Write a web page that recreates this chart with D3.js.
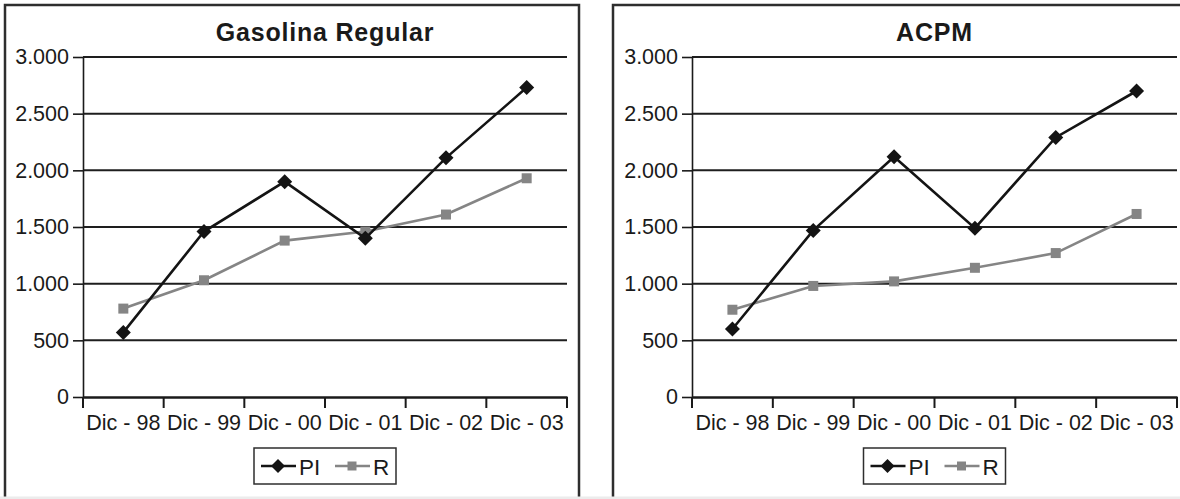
<!DOCTYPE html>
<html>
<head>
<meta charset="utf-8">
<script src="https://cdn.jsdelivr.net/npm/d3@7"></script>
<style>
  body { margin: 0; background: #fff; }
  svg { display: block; }
  svg text { font-family: "Liberation Sans", Arial, sans-serif; }
  .axis path, .axis line { stroke: #1a1a1a; }
  .axis text { fill: #1a1a1a; font-size: 21.5px; }
</style>
</head>
<body>
<svg id="chart" width="1180" height="499"></svg>
<script>
const categories = ["Dic - 98", "Dic - 99", "Dic - 00", "Dic - 01", "Dic - 02", "Dic - 03"];
const yTicks = [0, 500, 1000, 1500, 2000, 2500, 3000];
const seriesNames = ["PI", "R"];

const gasolinaPI = [570, 1460, 1900, 1400, 2110, 2730];
const gasolinaR = [780, 1030, 1380, 1460, 1610, 1930];
const acpmPI = [600, 1470, 2120, 1490, 2290, 2700];
const acpmR = [770, 980, 1020, 1140, 1270, 1615];

const locale = d3.formatLocale({ decimal: ",", thousands: ".", grouping: [3], currency: ["$", ""] });
const fmt = locale.format(",d");

const colors = { PI: "#141414", R: "#858585" };

const svg = d3.select("#chart");

function marker(g, name, cx, cy, big) {
  if (name === "PI") {
    const s = big ? 7.5 : 7;
    g.append("path")
      .attr("d", `M${cx},${cy - s}L${cx + s},${cy}L${cx},${cy + s}L${cx - s},${cy}Z`)
      .attr("fill", colors.PI);
  } else {
    const s = big ? 10 : 9;
    g.append("rect")
      .attr("x", cx - s / 2).attr("y", cy - s / 2)
      .attr("width", s).attr("height", s)
      .attr("fill", colors.R);
  }
}

function panel(opts) {
  const g = svg.append("g");

  g.append("rect")
    .attr("x", opts.frame[0]).attr("y", 5)
    .attr("width", opts.frame[1] - opts.frame[0]).attr("height", 510)
    .attr("fill", "none").attr("stroke", "#2e2e2e").attr("stroke-width", 2.5);

  const x = d3.scaleBand().domain(categories).range(opts.xRange);
  const y = d3.scaleLinear().domain([0, 3000]).range([397, 57]);

  // gridlines
  g.selectAll(".grid")
    .data(yTicks.filter(d => d > 0))
    .join("line")
    .attr("x1", opts.xRange[0]).attr("x2", opts.xRange[1])
    .attr("y1", d => y(d)).attr("y2", d => y(d))
    .attr("stroke", "#1e1e1e").attr("stroke-width", 2);

  // y axis
  const yAxis = g.append("g")
    .attr("class", "axis")
    .attr("font-family", null)
    .attr("transform", `translate(${opts.xRange[0]},0)`)
    .call(d3.axisLeft(y).tickValues(yTicks).tickFormat(fmt).tickSize(10).tickSizeOuter(0).tickPadding(4));
  yAxis.attr("font-family", null).attr("font-size", null);
  yAxis.select(".domain").attr("stroke-width", 1.6);
  yAxis.selectAll(".tick line").attr("stroke-width", 1.6);

  // x axis: labels at centres, ticks at category boundaries
  const xAxis = g.append("g")
    .attr("class", "axis")
    .attr("transform", "translate(0,397)")
    .call(d3.axisBottom(x).tickSize(0).tickSizeOuter(0).tickPadding(18));
  xAxis.attr("font-family", null).attr("font-size", null);
  xAxis.select(".domain").attr("stroke-width", 2.6);

  const bounds = categories.map(c => x(c)).concat([opts.xRange[1]]);
  g.selectAll(".xtick")
    .data(bounds)
    .join("line")
    .attr("x1", d => d).attr("x2", d => d)
    .attr("y1", 397).attr("y2", 408)
    .attr("stroke", "#1a1a1a").attr("stroke-width", 2);

  // series
  const line = d3.line()
    .x((d, i) => x(categories[i]) + x.bandwidth() / 2)
    .y(d => y(d));

  [["R", opts.R], ["PI", opts.PI]].forEach(([name, vals]) => {
    g.append("path")
      .datum(vals)
      .attr("d", line)
      .attr("fill", "none")
      .attr("stroke", colors[name])
      .attr("stroke-width", 2.6);
    vals.forEach((v, i) => marker(g, name, x(categories[i]) + x.bandwidth() / 2, y(v), true));
  });

  const cx = (opts.xRange[0] + opts.xRange[1]) / 2;

  // title
  g.append("text")
    .attr("x", cx).attr("y", 41)
    .attr("text-anchor", "middle")
    .attr("font-size", 25)
    .attr("font-weight", "bold")
    .attr("letter-spacing", 0.8)
    .attr("fill", "#1a1a1a")
    .text(opts.title);

  // legend
  const lg = g.append("g").attr("transform", `translate(${cx - 71},448)`);
  lg.append("rect")
    .attr("width", 142).attr("height", 36)
    .attr("fill", "#fff").attr("stroke", "#2e2e2e").attr("stroke-width", 1.5);
  const items = [{ name: "PI", x0: 7 }, { name: "R", x0: 81 }];
  items.forEach(it => {
    lg.append("line")
      .attr("x1", it.x0).attr("x2", it.x0 + 35)
      .attr("y1", 18).attr("y2", 18)
      .attr("stroke", colors[it.name]).attr("stroke-width", 2.6);
    marker(lg, it.name, it.x0 + 17, 18, false);
    lg.append("text")
      .attr("x", it.x0 + 38).attr("y", 26.5)
      .attr("font-size", 22.5)
      .attr("fill", "#1a1a1a")
      .text(it.name);
  });
}

panel({ title: "Gasolina Regular", frame: [5, 579], xRange: [83, 567], PI: gasolinaPI, R: gasolinaR });
panel({ title: "ACPM", frame: [613, 1200], xRange: [692, 1177], PI: acpmPI, R: acpmR });

// page bottom edge
svg.append("rect")
  .attr("x", 0).attr("y", 496.5)
  .attr("width", 1180).attr("height", 3)
  .attr("fill", "#ececec");
</script>
</body>
</html>
